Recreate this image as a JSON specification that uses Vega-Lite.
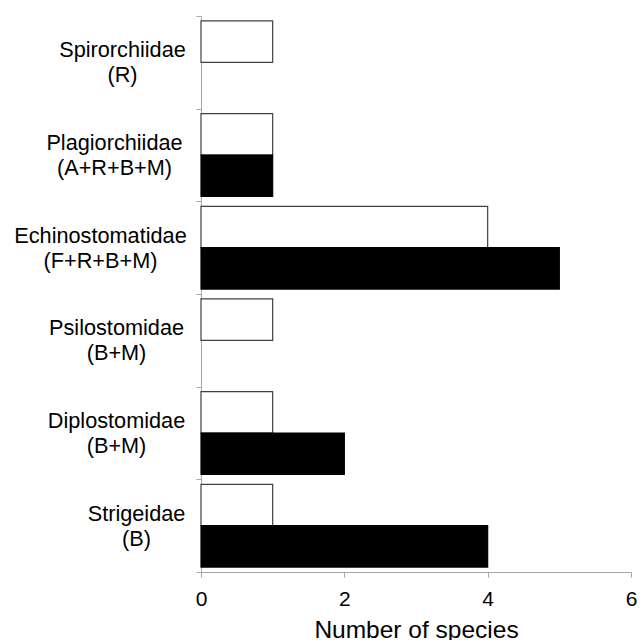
{
  "$schema": "https://vega.github.io/schema/vega-lite/v6.json",
  "width": 430,
  "height": 556,
  "autosize": "none",
  "padding": {"left": 201, "top": 16, "right": 9, "bottom": 68},
  "background": "white",
  "config": {
    "view": {"stroke": null},
    "font": "Liberation Sans"
  },
  "data": {
    "values": [
      {"family": "Spirorchiidae (R)", "series": "open", "species": 1},
      {"family": "Plagiorchiidae (A+R+B+M)", "series": "open", "species": 1},
      {"family": "Plagiorchiidae (A+R+B+M)", "series": "filled", "species": 1},
      {"family": "Echinostomatidae (F+R+B+M)", "series": "open", "species": 4},
      {"family": "Echinostomatidae (F+R+B+M)", "series": "filled", "species": 5},
      {"family": "Psilostomidae (B+M)", "series": "open", "species": 1},
      {"family": "Diplostomidae (B+M)", "series": "open", "species": 1},
      {"family": "Diplostomidae (B+M)", "series": "filled", "species": 2},
      {"family": "Strigeidae (B)", "series": "open", "species": 1},
      {"family": "Strigeidae (B)", "series": "filled", "species": 4}
    ]
  },
  "mark": {"type": "bar", "strokeWidth": 1.2},
  "encoding": {
    "y": {
      "field": "family",
      "type": "nominal",
      "sort": null,
      "scale": {"paddingInner": 0, "paddingOuter": 0},
      "axis": {
        "title": null,
        "labelExpr": "split(datum.label, ' ')",
        "labelAlign": "center",
        "labelFontSize": 21.7,
        "labelLineHeight": 25,
        "labelOffset": -12.5,
        "labelColor": "black",
        "labelPadding": {
          "condition": [
            {"test": "datum.value == 'Spirorchiidae (R)'", "value": 74},
            {"test": "datum.value == 'Plagiorchiidae (A+R+B+M)'", "value": 82},
            {"test": "datum.value == 'Echinostomatidae (F+R+B+M)'", "value": 96},
            {"test": "datum.value == 'Psilostomidae (B+M)'", "value": 80},
            {"test": "datum.value == 'Diplostomidae (B+M)'", "value": 80}
          ],
          "value": 60
        },
        "tickBand": "extent",
        "tickSize": 5,
        "tickColor": "#a6a6a6",
        "domainColor": "#a6a6a6",
        "labelLimit": 300
      }
    },
    "yOffset": {
      "field": "series",
      "type": "nominal",
      "scale": {"domain": ["open", "filled"], "paddingOuter": 0.12, "paddingInner": 0}
    },
    "x": {
      "field": "species",
      "type": "quantitative",
      "scale": {"domain": [0, 6], "nice": false},
      "axis": {
        "title": "Number of species",
        "titleFontSize": 24.5,
        "titleFontWeight": "normal",
        "titleColor": "black",
        "titlePadding": 9,
        "values": [0, 2, 4, 6],
        "grid": false,
        "labelFlush": false,
        "labelFontSize": 21,
        "labelColor": "black",
        "labelPadding": 11,
        "tickSize": 5,
        "tickColor": "#a6a6a6",
        "domainColor": "#a6a6a6"
      }
    },
    "fill": {
      "field": "series",
      "type": "nominal",
      "scale": {"domain": ["open", "filled"], "range": ["white", "black"]},
      "legend": null
    },
    "stroke": {
      "field": "series",
      "type": "nominal",
      "scale": {"domain": ["open", "filled"], "range": ["#404040", "black"]},
      "legend": null
    }
  }
}
